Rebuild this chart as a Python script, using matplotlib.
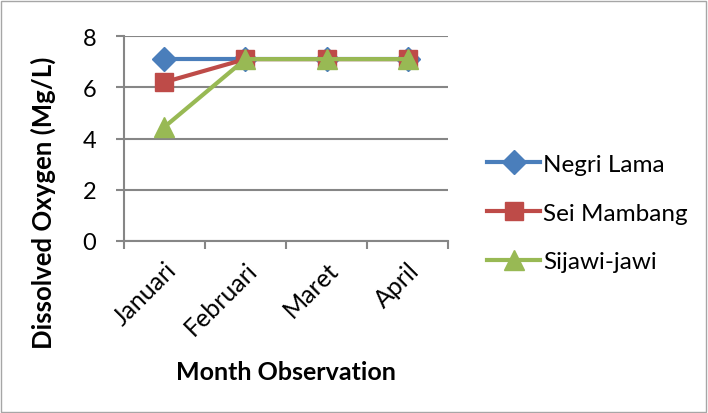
import matplotlib.pyplot as plt
from matplotlib.patches import Rectangle
from matplotlib.transforms import ScaledTranslation

plt.rcParams['font.family'] = ['Lato', 'DejaVu Sans']

months = ['Januari', 'Februari', 'Maret', 'April']
negri_lama = [7.1, 7.1, 7.1, 7.1]
sei_mambang = [6.2, 7.1, 7.1, 7.1]
sijawi_jawi = [4.45, 7.1, 7.1, 7.1]

fig = plt.figure(figsize=(7.08, 4.14), dpi=100)
fig.patches.append(Rectangle((0.002, 0.003), 0.995, 0.993, transform=fig.transFigure,
                             fill=False, edgecolor='#a6a6a6', linewidth=1))

ax = fig.add_axes([0.175, 0.4155, 0.458, 0.495])
x = list(range(len(months)))
ax.plot(x, negri_lama, color='#4a7ebb', lw=3, marker='D', ms=12, label='Negri Lama', zorder=3)
ax.plot(x, sei_mambang, color='#be4b48', lw=3, marker='s', ms=13, label='Sei Mambang', zorder=4)
ax.plot(x, sijawi_jawi, color='#98b954', lw=3, marker='^', ms=14, label='Sijawi-jawi', zorder=5)

ax.set_xlim(-0.5, 3.5)
ax.set_ylim(0, 8)
ax.set_yticks([0, 2, 4, 6, 8])
ax.set_xticks(x)
ax.set_xticks([-0.5, 0.5, 1.5, 2.5, 3.5], minor=True)
ax.set_xticklabels(months, rotation=45, ha='right', va='top', rotation_mode='anchor', fontsize=18)
# nudge the slanted month labels a little to the right
shift = ScaledTranslation(3 / 100, 0, fig.dpi_scale_trans)
for lbl in ax.get_xticklabels():
    lbl.set_transform(lbl.get_transform() + shift)
ax.tick_params(axis='x', which='major', length=0, pad=12)
ax.tick_params(axis='x', which='minor', length=6, width=1.5, color='#868686')
ax.tick_params(axis='y', length=6, width=1.5, color='#868686', labelsize=17, pad=14)
ax.grid(axis='y', color='#868686', lw=1.5)
ax.set_axisbelow(True)
for s in ['top', 'right']:
    ax.spines[s].set_visible(False)
for s in ['left', 'bottom']:
    ax.spines[s].set_color('#868686')
    ax.spines[s].set_linewidth(1.5)

fig.text(43 / 708, 1 - 203 / 414, 'Dissolved Oxygen (Mg/L)', rotation=90, fontsize=18.5,
         fontweight='bold', ha='center', va='center')
fig.text(286 / 708, 1 - 373 / 414, 'Month Observation', fontsize=18,
         fontweight='bold', ha='center', va='center')

fig.legend(loc='center left', bbox_to_anchor=(487 / 708, 1 - 214 / 414), frameon=False, fontsize=17.5,
           labelspacing=1.15, handlelength=2.2, handletextpad=0.1, borderpad=0, borderaxespad=0)

fig.savefig('out.png', dpi=100)
